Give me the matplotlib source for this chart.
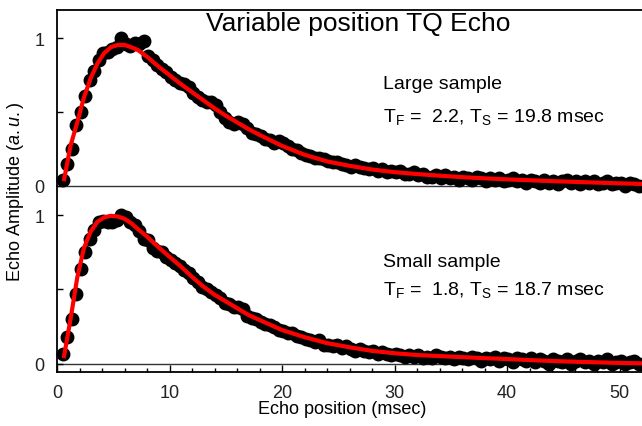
import numpy as np
import matplotlib
matplotlib.use("Agg")
import matplotlib.pyplot as plt

plt.rcParams['font.family'] = ['Liberation Sans', 'DejaVu Sans']
plt.rcParams['mathtext.fontset'] = 'custom'
plt.rcParams['mathtext.rm'] = 'Liberation Sans'
plt.rcParams['mathtext.it'] = 'Liberation Sans:italic'

# Echo positions: first echo at 0.5 msec, stepped by 0.4 msec
t0, dt = 0.5, 0.4

# Measured echo amplitudes (dots), large sample
large_amp = [
    0.04, 0.15, 0.25, 0.41, 0.50, 0.61, 0.72, 0.78, 0.85, 0.90,
    0.91, 0.93, 0.94, 1.00, 0.96, 0.95, 0.97, 0.96, 0.98, 0.88,
    0.85, 0.82, 0.79, 0.77, 0.74, 0.72, 0.70, 0.69, 0.67, 0.63,
    0.60, 0.58, 0.57, 0.57, 0.55, 0.50, 0.46, 0.43, 0.42, 0.43,
    0.42, 0.39, 0.36, 0.35, 0.34, 0.32, 0.31, 0.29, 0.30, 0.29,
    0.27, 0.25, 0.24, 0.22, 0.21, 0.20, 0.19, 0.19, 0.18, 0.17,
    0.16, 0.16, 0.15, 0.14, 0.13, 0.14, 0.13, 0.12, 0.11, 0.12,
    0.10, 0.11, 0.09, 0.10, 0.09, 0.10, 0.08, 0.08, 0.09, 0.07,
    0.08, 0.06, 0.06, 0.07, 0.05, 0.07, 0.05, 0.06, 0.04, 0.06,
    0.05, 0.04, 0.06, 0.05, 0.03, 0.05, 0.04, 0.05, 0.03, 0.04,
    0.05, 0.03, 0.04, 0.02, 0.04, 0.03, 0.02, 0.04, 0.02, 0.03,
    0.01, 0.03, 0.04, 0.02, 0.03, 0.01, 0.03, 0.02, 0.03, 0.01,
    0.02, 0.03, 0.01, 0.02, 0.02, 0.00, 0.02, 0.01, 0.00,
]

# Measured echo amplitudes (dots), small sample
small_amp = [
    0.07, 0.18, 0.30, 0.47, 0.64, 0.75, 0.84, 0.90, 0.95, 0.96,
    0.95, 0.95, 0.97, 1.00, 0.99, 0.95, 0.93, 0.89, 0.84, 0.83,
    0.78, 0.76, 0.75, 0.72, 0.70, 0.68, 0.66, 0.63, 0.61, 0.58,
    0.55, 0.52, 0.50, 0.48, 0.46, 0.44, 0.41, 0.40, 0.38, 0.38,
    0.37, 0.32, 0.31, 0.30, 0.28, 0.27, 0.26, 0.25, 0.23, 0.22,
    0.21, 0.21, 0.19, 0.18, 0.17, 0.16, 0.15, 0.16, 0.13, 0.13,
    0.12, 0.13, 0.11, 0.12, 0.10, 0.09, 0.10, 0.09, 0.08, 0.09,
    0.07, 0.08, 0.07, 0.06, 0.07, 0.06, 0.05, 0.06, 0.05, 0.06,
    0.04, 0.05, 0.04, 0.06, 0.05, 0.04, 0.05, 0.03, 0.05, 0.04,
    0.03, 0.05, 0.04, 0.02, 0.04, 0.03, 0.05, 0.02, 0.04, 0.03,
    0.01, 0.04, 0.03, 0.02, 0.04, 0.01, 0.03, 0.02, 0.00, 0.03,
    0.02, 0.01, 0.03, 0.00, 0.02, 0.03, 0.01, 0.02, 0.00, 0.02,
    0.01, 0.03, 0.00, 0.01, 0.02, 0.00, 0.01, 0.02, 0.00,
]

# Fitted curves (red)
fit_t = [0.6, 1.2, 1.8, 2.4, 3.0, 3.6, 4.2, 4.8, 5.4, 6.0, 6.6, 7.2, 8.0,
         9.0, 10, 11, 12, 13, 14, 15, 16, 17, 18, 20, 22, 24, 26, 28, 30,
         32, 34, 36, 38, 40, 42, 44, 46, 48, 50, 52]
large_fit = [0.03, 0.27, 0.43, 0.60, 0.73, 0.83, 0.90, 0.94, 0.955, 0.955,
             0.94, 0.92, 0.875, 0.81, 0.75, 0.69, 0.635, 0.58, 0.525, 0.475,
             0.43, 0.385, 0.345, 0.27, 0.21, 0.165, 0.135, 0.11, 0.092, 0.079,
             0.068, 0.058, 0.05, 0.043, 0.037, 0.031, 0.026, 0.021, 0.016, 0.012]
small_fit = [0.04, 0.30, 0.58, 0.78, 0.89, 0.955, 0.985, 0.995, 0.99, 0.975,
             0.945, 0.905, 0.855, 0.785, 0.72, 0.655, 0.585, 0.52, 0.465, 0.42,
             0.375, 0.33, 0.295, 0.228, 0.18, 0.14, 0.112, 0.088, 0.072, 0.06,
             0.053, 0.046, 0.039, 0.033, 0.026, 0.02, 0.015, 0.011, 0.007, 0.004]

labels = ["Large sample", "Small sample"]
params = [r"T$_\mathregular{F}$ =  2.2, T$_\mathregular{S}$ = 19.8 msec",
          r"T$_\mathregular{F}$ =  1.8, T$_\mathregular{S}$ = 18.7 msec"]

W, H = 642, 427
fig = plt.figure(figsize=(W / 100, H / 100), dpi=100)
left = 57 / W
ax_bot = fig.add_axes([left, 1 - 372.7 / H, 1 - left, (372.7 - 186.7) / H])
ax_top = fig.add_axes([left, 1 - 186.7 / H, 1 - left, (186.7 - 11) / H])
ax_top.patch.set_visible(False)
ax_bot.patch.set_visible(False)

ax_top.set_ylim(0, 1.192)
ax_bot.set_ylim(-0.052, 1.197)

for ax, amp, fit, lab, par, ytxt in [
        (ax_top, large_amp, large_fit, labels[0], params[0], (0.69, 0.47)),
        (ax_bot, small_amp, small_fit, labels[1], params[1], (0.69, 0.50))]:
    t = t0 + dt * np.arange(len(amp))
    ax.plot(t, amp, 'o', color='black', ms=9, mec='black', clip_on=False, zorder=3)
    ax.plot(fit_t, fit, '-', color='#ff0000', lw=3, zorder=4, clip_on=False,
            solid_capstyle='butt')
    ax.set_xlim(0, 52)
    ax.set_yticks([0, 0.5, 1])
    ax.set_yticklabels(['0', '', '1'])
    ax.tick_params(axis='y', direction='in', length=4, width=1, labelsize=13,
                   pad=9, labelcolor='#222222')
    ax.text(29.0, ytxt[0], lab, fontsize=14, va='center', ha='left')
    ax.text(29.0, ytxt[1], par, fontsize=14, va='center', ha='left')
    ax.spines['right'].set_visible(False)
    ax.spines['left'].set_linewidth(1.3)

ax_top.spines['top'].set_linewidth(1.3)
ax_top.spines['bottom'].set_color('#333333')
ax_top.spines['bottom'].set_linewidth(1.0)
ax_top.spines['bottom'].set_zorder(1)
ax_top.set_xticks([])

ax_bot.spines['top'].set_visible(False)
ax_bot.spines['bottom'].set_linewidth(1.3)
ax_bot.axhline(0, color='#333333', lw=1.0, zorder=1)
ax_bot.set_xticks(np.arange(0, 51, 10))
ax_bot.set_xticks(np.arange(0, 53, 2), minor=True)
ax_bot.tick_params(axis='x', which='major', direction='in', length=5, width=1,
                   labelsize=13, pad=9, labelcolor='#222222')
ax_bot.tick_params(axis='x', which='minor', direction='in', length=3, width=1)

fig.text(358 / W, 1 - 24 / H, "Variable position TQ Echo", fontsize=19,
         ha='center', va='center')
fig.text(16 / W, 1 - 192 / H, r"Echo Amplitude ($\mathit{a.u.}$)", fontsize=13,
         rotation=90, ha='center', va='center')
fig.text(342 / W, 1 - 410 / H, "Echo position (msec)", fontsize=13,
         ha='center', va='center')

fig.savefig("out.png", dpi=100)
